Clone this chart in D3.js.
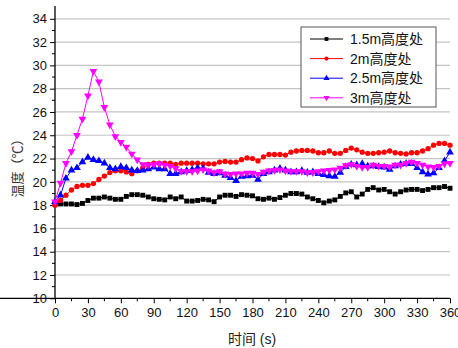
<!DOCTYPE html>
<html>
<head>
<meta charset="utf-8">
<script src="https://cdn.jsdelivr.net/npm/d3@7/dist/d3.min.js"></script>
<style>
  body { margin: 0; background: #fff; }
  svg { display: block; font-family: "Liberation Sans", Arial, "Noto Sans CJK SC", sans-serif; }
</style>
</head>
<body>
<svg id="chart" width="458" height="348"></svg>
<script>
// 时间轴 (s)，每 5 s 一个点
const times = d3.range(0, 361, 5);

// 1.5m 高度处
const h15 = [18.1, 18.1, 18.1, 18.1, 18.05, 18.15, 18.4, 18.6, 18.6, 18.7, 18.6, 18.5, 18.5, 18.75, 18.9, 18.9, 18.85, 18.7,
  18.55, 18.5, 18.45, 18.7, 18.55, 18.7, 18.35, 18.35, 18.4, 18.5, 18.45, 18.3, 18.7, 18.85, 18.85, 18.75, 18.9, 18.85,
  18.8, 18.55, 18.5, 18.6, 18.5, 18.65, 18.85, 19.0, 19.0, 18.95, 18.7, 18.55, 18.4, 18.2, 18.35, 18.45, 18.75, 19.05,
  19.15, 18.7, 18.95, 19.35, 19.5, 19.3, 19.35, 19.15, 18.95, 19.15, 19.3, 19.35, 19.35, 19.25, 19.35, 19.5, 19.5, 19.6, 19.45];

// 2m 高度处
const h20 = [18.0, 18.4, 18.85, 19.3, 19.6, 19.7, 19.7, 19.85, 20.2, 20.5, 20.8, 20.95, 20.95, 20.85, 20.7, 20.95, 21.2, 21.5,
  21.6, 21.6, 21.6, 21.6, 21.5, 21.6, 21.6, 21.6, 21.6, 21.55, 21.55, 21.55, 21.7, 21.75, 21.7, 21.7, 21.9, 22.05,
  22.0, 21.8, 22.15, 22.35, 22.35, 22.35, 22.3, 22.55, 22.65, 22.7, 22.7, 22.65, 22.5, 22.5, 22.65, 22.45, 22.45, 22.7,
  22.9, 22.75, 22.55, 22.45, 22.45, 22.5, 22.55, 22.65, 22.5, 22.45, 22.4, 22.5, 22.5, 22.65, 22.85, 23.15, 23.3, 23.3, 23.15];

// 2.5m 高度处
const h25 = [18.3, 18.85, 20.3, 21.0, 21.2, 21.7, 22.1, 21.9, 21.8, 21.6, 21.2, 21.1, 21.3, 21.2, 21.0, 20.95, 21.0, 21.1,
  21.25, 21.1, 21.1, 20.7, 20.7, 20.85, 20.95, 21.05, 21.2, 21.15, 20.8, 20.7, 20.75, 20.55, 20.35, 20.1, 20.45, 20.5,
  20.55, 20.2, 20.7, 20.85, 21.0, 21.15, 21.0, 20.85, 20.85, 20.95, 20.8, 20.85, 20.7, 20.6, 20.5, 20.45, 20.8, 21.3,
  21.5, 21.45, 21.55, 21.35, 21.35, 21.3, 21.25, 21.05, 21.35, 21.5, 21.55, 21.55, 21.2, 20.85, 20.65, 20.75, 21.2, 21.8, 22.55];

// 3m 高度处
const h30 = [18.3, 19.9, 21.6, 22.6, 24.0, 25.4, 27.4, 29.5, 28.6, 26.4, 24.9, 23.9, 23.4, 23.0, 22.4, 21.9, 21.5, 21.45,
  21.5, 21.55, 21.45, 21.35, 21.15, 20.9, 20.9, 20.9, 20.95, 21.05, 20.95, 20.8, 20.9, 20.7, 20.65, 20.7, 20.7, 20.75,
  20.75, 20.65, 20.85, 20.95, 21.0, 21.05, 20.95, 20.9, 20.9, 20.9, 20.8, 20.8, 20.9, 20.95, 21.0, 21.05, 21.2, 21.4,
  21.5, 21.35, 21.25, 21.25, 21.45, 21.35, 21.35, 21.3, 21.45, 21.45, 21.6, 21.7, 21.6, 21.45, 21.3, 21.25, 21.35, 21.55, 21.6];

// 刻度
const xTicks = d3.range(0, 361, 30);
const yTicks = d3.range(10, 35, 2);

// 系列配置
const series = [
  { name: '1.5m高度处', values: h15, color: '#000000', symbol: d3.symbolSquare, size: 24, rotate: 0 },
  { name: '2m高度处', values: h20, color: '#ff0000', symbol: d3.symbolCircle, size: 22, rotate: 0 },
  { name: '2.5m高度处', values: h25, color: '#0000ff', symbol: d3.symbolTriangle, size: 26, rotate: 0 },
  { name: '3m高度处', values: h30, color: '#ff00ff', symbol: d3.symbolTriangle, size: 26, rotate: 180 }
];

const svg = d3.select('#chart');

// 比例尺
const x = d3.scaleLinear().domain([0, 360]).range([55, 450]);
const y = d3.scaleLinear().domain([10, 35.1]).range([298.3, 6]);

// 网格线
svg.append('g').selectAll('line').data(yTicks.filter(d => d > 10)).join('line')
  .attr('x1', x(0)).attr('x2', x(360))
  .attr('y1', d => y(d)).attr('y2', d => y(d))
  .attr('stroke', '#c4c4c4').attr('stroke-width', 1.2);

// 坐标轴
const xAxis = svg.append('g').attr('transform', `translate(0,${y(10)})`)
  .call(d3.axisBottom(x).tickValues(xTicks).tickSize(5).tickPadding(4));
const yAxis = svg.append('g').attr('transform', `translate(${x(0)},0)`)
  .call(d3.axisLeft(y).tickValues(yTicks).tickSize(5).tickPadding(3));

// 次刻度
svg.append('g').selectAll('line').data(d3.range(15, 360, 30)).join('line')
  .attr('x1', d => x(d)).attr('x2', d => x(d))
  .attr('y1', y(10)).attr('y2', y(10) + 3).attr('stroke', '#000');
svg.append('g').selectAll('line').data(d3.range(11, 35, 2)).join('line')
  .attr('y1', d => y(d)).attr('y2', d => y(d))
  .attr('x1', x(0)).attr('x2', x(0) - 3).attr('stroke', '#000');

[xAxis, yAxis].forEach(a => {
  a.select('.domain').attr('stroke', '#000').attr('stroke-width', 1.3);
  a.selectAll('.tick line').attr('stroke', '#000');
  a.selectAll('.tick text').attr('font-size', 13).attr('fill', '#111')
    .attr('font-family', '"Liberation Sans", Arial, sans-serif');
});
yAxis.select('.domain').attr('d', `M0,${y(35.1)}V${y(10)}`);
xAxis.select('.domain').attr('d', `M0,0H${x(360)}`);

// 折线与标记
const line = d3.line().x((d, i) => x(times[i])).y(d => y(d));
series.forEach(s => {
  const g = svg.append('g');
  g.append('path').datum(s.values)
    .attr('d', line).attr('fill', 'none')
    .attr('stroke', s.color).attr('stroke-width', 1);
  g.selectAll('path.m').data(s.values).join('path').attr('class', 'm')
    .attr('d', d3.symbol(s.symbol, s.size))
    .attr('transform', (d, i) => `translate(${x(times[i])},${y(d)}) rotate(${s.rotate})`)
    .attr('fill', s.color);
});

// 图例
const legend = svg.append('g');
legend.append('rect')
  .attr('x', 301).attr('y', 27).attr('width', 135).attr('height', 80)
  .attr('fill', '#fff').attr('stroke', '#555').attr('stroke-width', 1);
series.forEach((s, i) => {
  const ly = 39 + i * 19.6;
  legend.append('line')
    .attr('x1', 310).attr('x2', 343).attr('y1', ly).attr('y2', ly)
    .attr('stroke', s.color).attr('stroke-width', 1);
  legend.append('path')
    .attr('d', d3.symbol(s.symbol, s.size * 0.6))
    .attr('transform', `translate(326.5,${ly}) rotate(${s.rotate})`)
    .attr('fill', s.color);
  legend.append('text')
    .attr('x', 350).attr('y', ly + 5)
    .attr('font-size', 14).attr('fill', '#111')
    .text(s.name);
});

// 轴标题
svg.append('text')
  .attr('x', 252).attr('y', 344)
  .attr('text-anchor', 'middle').attr('font-size', 14).attr('fill', '#222')
  .text('时间 (s)');
svg.append('text')
  .attr('transform', 'translate(22,165) rotate(-90)')
  .attr('text-anchor', 'middle').attr('font-size', 13).attr('fill', '#333')
  .text('温度（℃）');
</script>
</body>
</html>
